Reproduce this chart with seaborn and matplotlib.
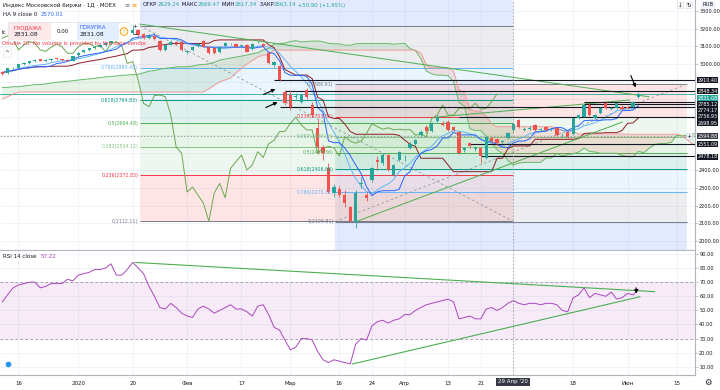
import matplotlib
matplotlib.use("Agg")
import matplotlib.pyplot as plt
import numpy as np
import pandas as pd
import seaborn as sns

# --------------------------------------------------------------------------- #
# Data (daily bars of the MOEX index)
# --------------------------------------------------------------------------- #
trade_start = "2019-12-11"
closed_days = ["2019-12-31", "2020-01-01", "2020-01-02", "2020-01-07",
               "2020-02-24", "2020-03-09", "2020-05-01", "2020-05-11",
               "2020-06-12"]

open_ = [
    2958, 2948, 2976, 2980, 2998, 3008, 3015, 3026, 3019, 3023,
    3033, 3028, 3024, 3020, 3050, 3066, 3078, 3088, 3098, 3108,
    3120, 3133, 3146, 3160, 3174, 3190, 3170, 3148, 3160, 3130,
    3080, 3110, 3125, 3125, 3066, 3078, 3100, 3128, 3098, 3088,
    3068, 3102, 3113, 3113, 3102, 3108, 3083, 3125, 3113, 3061,
    2995, 2989, 2844, 2825, 2816, 2788, 2854, 2769, 2640, 2531,
    2413, 2272, 2294, 2260, 2192, 2110, 2320, 2258, 2345, 2460,
    2440, 2486, 2375, 2460, 2470, 2525, 2548, 2598, 2646, 2620,
    2680, 2668, 2675, 2646, 2618, 2514, 2552, 2522, 2524, 2470,
    2580, 2578, 2560, 2582, 2629.24, 2684, 2630, 2632, 2656, 2630,
    2646, 2628, 2637, 2600, 2618, 2605, 2693, 2703, 2769, 2698,
    2722, 2778, 2748, 2750, 2760, 2760, 2757, 2812,
]
high = [
    2962, 2980, 2985, 3002, 3012, 3018, 3028, 3030, 3026, 3034,
    3036, 3031, 3027, 3048, 3068, 3080, 3092, 3102, 3112, 3125,
    3138, 3150, 3165, 3178, 3218, 3200, 3178, 3168, 3166, 3135,
    3115, 3135, 3130, 3135, 3080, 3100, 3118, 3136, 3103, 3094,
    3102, 3122, 3120, 3118, 3110, 3112, 3118, 3133, 3120, 3068,
    3020, 2995, 2856, 2856, 2835, 2830, 2862, 2785, 2690, 2540,
    2440, 2320, 2310, 2290, 2200, 2290, 2360, 2275, 2420, 2482,
    2495, 2492, 2435, 2510, 2485, 2560, 2575, 2625, 2655, 2670,
    2710, 2680, 2682, 2652, 2622, 2530, 2560, 2535, 2530, 2595,
    2590, 2585, 2572, 2615, 2669.47, 2690, 2645, 2648, 2662, 2640,
    2652, 2638, 2642, 2610, 2622, 2698, 2718, 2775, 2780, 2718,
    2755, 2785, 2756, 2782, 2768, 2765, 2790, 2840,
]
low = [
    2940, 2945, 2970, 2978, 2994, 3003, 3012, 3015, 3014, 3020,
    3022, 3018, 3015, 3018, 3048, 3060, 3074, 3085, 3094, 3104,
    3116, 3128, 3140, 3155, 3170, 3155, 3140, 3140, 3135, 3072,
    3075, 3105, 3110, 3072, 3058, 3074, 3096, 3094, 3055, 3055,
    3064, 3098, 3108, 3094, 3096, 3066, 3080, 3120, 3098, 3000,
    2985, 2905, 2770, 2740, 2805, 2780, 2800, 2700, 2490, 2458,
    2270, 2250, 2250, 2190, 2105, 2074, 2300, 2225, 2335, 2400,
    2430, 2395, 2365, 2455, 2455, 2520, 2540, 2592, 2612, 2615,
    2672, 2650, 2620, 2620, 2490, 2505, 2528, 2510, 2440, 2465,
    2555, 2545, 2552, 2578, 2617.34, 2640, 2620, 2625, 2622, 2622,
    2624, 2620, 2595, 2590, 2585, 2600, 2688, 2700, 2708, 2690,
    2718, 2745, 2740, 2745, 2740, 2745, 2752, 2808,
]
close = [
    2945, 2975, 2979, 2998, 3008, 3015, 3024, 3019, 3023, 3031,
    3026, 3022, 3018, 3046, 3065, 3078, 3088, 3098, 3108, 3120,
    3133, 3146, 3160, 3174, 3195, 3162, 3146, 3160, 3140, 3080,
    3108, 3127, 3118, 3080, 3072, 3095, 3113, 3098, 3061, 3061,
    3098, 3117, 3115, 3098, 3105, 3070, 3113, 3127, 3102, 3004,
    3014, 2910, 2778, 2759, 2822, 2825, 2816, 2712, 2530, 2497,
    2277, 2305, 2260, 2215, 2112, 2272, 2326, 2245, 2411, 2448,
    2486, 2402, 2430, 2505, 2472, 2550, 2570, 2618, 2620, 2665,
    2700, 2656, 2628, 2628, 2497, 2524, 2535, 2526, 2480, 2590,
    2565, 2553, 2565, 2609, 2663.14, 2646, 2632, 2640, 2628, 2632,
    2628, 2630, 2599, 2602, 2590, 2693, 2712, 2769, 2712, 2712,
    2750, 2752, 2750, 2778, 2745, 2750, 2787, 2831.08,
]
rsi = [
    56, 61, 66, 68, 69, 70, 70, 66, 67, 69, 69, 69,
    72, 71, 75, 76, 77, 79, 79, 80, 83, 75, 75, 79,
    84, 80, 76, 67, 60, 52, 51, 55, 52, 48, 46, 45,
    51, 53, 51, 48, 50, 52, 54, 51, 51, 49, 46, 53,
    54, 47, 38, 36, 29, 22, 24, 30, 30, 29, 21, 15,
    13, 15, 14, 13, 12, 26, 30, 29, 39, 42, 43, 41,
    43, 44, 47, 47, 50, 52, 54, 55, 56, 57, 58, 56,
    44, 45, 46, 44, 44, 51, 52, 50, 52, 55, 57, 55,
    54, 55, 55, 54, 55, 55, 54, 50, 49, 59, 61, 66,
    59, 62, 61, 60, 63, 58, 59, 62, 61, 65,
]
# leading spans at the left edge (their source bars lie before the window)
lead_a_head = [2868, 2868, 2872, 2872, 2876, 2880, 2884, 2884, 2888, 2893,
               2897, 2900, 2903, 2906, 2910, 2913, 2916, 2920, 2924, 2928,
               2930, 2933, 2936, 2938, 2940, 2942]
lead_b_head = [2803, 2815, 2830, 2842, 2842, 2842, 2842, 2842, 2842, 2842,
               2842, 2842, 2842, 2842, 2842, 2842, 2842, 2842, 2842, 2842,
               2842, 2842, 2842, 2842, 2842, 2842, 2842, 2842, 2842, 2842,
               2842, 2842, 2842, 2842, 2842, 2842, 2842, 2842, 2860, 2880,
               2900, 2910, 2921, 2950, 2975, 3000, 3020, 3040, 3051, 3051]

fib_a = (3216.84, 2112.11)          # price at level 1, price at level 0
fib_b = (2109.81, 2886.91)          # price at level 1, price at level 0
fib_ratios = [0, 0.236, 0.382, 0.5, 0.618, 0.786, 1, 1.618]
fib_colors = ["#787b86", "#f23645", "#81c784", "#4caf50", "#089981",
              "#64b5f6", "#787b86", "#2962ff"]

level_values = [2910.40, 2848.34, 2785.12, 2774.17, 2756.93, 2698.95, 2551.09, 2478.18]
level_from = ["2020-02-26", "2020-02-28", "2020-05-20", "2020-05-20",
              "2020-02-27", "2020-04-15", "2020-04-17", "2020-04-21"]
last_price = 2831.08
cross_date = "2020-04-29"
cross_price = 2594.88
scale_labels = [2910.40, 2848.34, 2831.08, 2785.12, 2774.17, 2756.93,
                2698.95, 2594.88, 2551.09, 2478.18]

time_ticks = ["2019-12-16", "2020-01-03", "2020-01-20", "2020-02-03", "2020-02-17",
              "2020-03-02", "2020-03-16", "2020-03-24", "2020-04-01", "2020-04-13",
              "2020-04-21", "2020-05-18", "2020-06-01", "2020-06-15"]
time_labels = ["16", "2020", "20", "Фев", "17", "Мар", "16", "24", "Апр", "13",
               "21", "18", "Июн", "15"]
price_ticks = [3300, 3200, 3100, 3000, 2400, 2300, 2200, 2100, 2000]
rsi_ticks = [90, 80, 70, 60, 50, 40, 30, 20, 10]

# --------------------------------------------------------------------------- #
# Derived series
# --------------------------------------------------------------------------- #
cal = pd.bdate_range(trade_start, "2020-07-15", freq="C", holidays=closed_days)
n = len(close)
bars = pd.DataFrame({"open": open_, "high": high, "low": low,
                     "close": close, "rsi": rsi})
bars["i"] = np.arange(n)
ext = np.arange(n + 26)

hi, lo, cl = bars["high"], bars["low"], bars["close"]
tenkan = (hi.rolling(9, min_periods=1).max() + lo.rolling(9, min_periods=1).min()) / 2
kijun = (hi.rolling(26, min_periods=1).max() + lo.rolling(26, min_periods=1).min()) / 2
span_a = ((tenkan + kijun) / 2).reindex(ext).shift(26)
span_b = ((hi.rolling(52, min_periods=1).max()
           + lo.rolling(52, min_periods=1).min()) / 2).reindex(ext).shift(26)
span_a.iloc[:len(lead_a_head)] = lead_a_head
span_b.iloc[:len(lead_b_head)] = lead_b_head
chikou = cl.shift(-26)
ma9 = cl.rolling(9, min_periods=1).mean()


def pos(day):
    return cal.get_loc(pd.Timestamp(day))


# --------------------------------------------------------------------------- #
# Figure
# --------------------------------------------------------------------------- #
sns.set_theme(style="white")
plt.rcParams["font.family"] = ["DejaVu Sans"]

GREEN, RED = "#26a69a", "#ef5350"
TXT = "#131722"
AXIS = "#b2b5be"
GRID = "#f0f3fa"
W, H = 720, 390

fig = plt.figure(figsize=(7.2, 3.9), dpi=100)
ax = fig.add_axes([0, 1 - 250 / H, 695 / W, 250 / H])
ax_r = fig.add_axes([0, 1 - 375 / H, 695 / W, 124 / H], sharex=ax)

xmin, xmax = -0.4, 127.4
ax.set_xlim(xmin, xmax)
ax.set_ylim(1949.5, 3362)
ax_r.set_ylim(4.2, 92.1)

tick_pos = [pos(d) for d in time_ticks]
for a in (ax, ax_r):
    for p in tick_pos:
        a.axvline(p, color=GRID, lw=0.7, zorder=0)
    for s in ("top", "left"):
        a.spines[s].set_visible(False)
    for s in ("right", "bottom"):
        a.spines[s].set_color(AXIS)
        a.spines[s].set_linewidth(0.8)
for v in range(2000, 3400, 100):
    ax.axhline(v, color=GRID, lw=0.7, zorder=0)
for v in rsi_ticks:
    ax_r.axhline(v, color=GRID, lw=0.7, zorder=0)


# --- fibonacci retracements
def draw_fib(p1, p0, x0, x1, hidden=()):
    prices = [p0 + r * (p1 - p0) for r in fib_ratios]
    for k in range(1, len(prices)):
        ax.fill_between([x0, x1], prices[k - 1], prices[k],
                        color=fib_colors[k], alpha=0.13, lw=0, zorder=1)
    for r, p, c in zip(fib_ratios, prices, fib_colors):
        if not (1960 < p < 3350):
            continue
        ax.hlines(p, x0, x1, color=c, lw=0.7, zorder=1.5)
        if r in hidden:       # label sits under the order widget
            continue
        ax.text(x0 - 0.3, p, f"{r:g}({p:.2f})", color=c, fontsize=3.4,
                ha="right", va="center", zorder=6)
    ax.plot([x0, x1], [p1, p0], color="#9598a1", lw=0.6, ls=(0, (3, 3)), zorder=1.6)


draw_fib(fib_a[0], fib_a[1], 25.3, 93.9, hidden=(1,))
draw_fib(fib_b[0], fib_b[1], 61.2, 125.9)

# --- ichimoku cloud
ax.fill_between(ext, span_a, span_b, where=span_a >= span_b, interpolate=True,
                color="#43a047", alpha=0.12, lw=0, zorder=2)
ax.fill_between(ext, span_a, span_b, where=span_a < span_b, interpolate=True,
                color="#f44336", alpha=0.12, lw=0, zorder=2)
lines = pd.DataFrame({"i": ext, "a": span_a.values, "b": span_b.values})
for col, color in (("a", "#66bb6a"), ("b", "#ef9a9a")):
    d = lines.dropna(subset=[col])
    sns.lineplot(data=d, x="i", y=col, ax=ax, color=color, lw=0.7,
                 estimator=None, legend=False, zorder=3)
ind = pd.DataFrame({"i": bars["i"], "tenkan": tenkan, "kijun": kijun,
                    "ma9": ma9, "chikou": chikou})
for col, color in (("kijun", "#8d1c24"), ("chikou", "#6aa84f"),
                   ("ma9", "#64b5f6"), ("tenkan", "#2962ff")):
    d = ind.dropna(subset=[col])
    sns.lineplot(data=d, x="i", y=col, ax=ax, color=color, lw=0.7,
                 estimator=None, legend=False, zorder=3)

# --- current price & level lines
ax.axhline(last_price, color=GREEN, lw=0.6, zorder=2.5)
for v, d in zip(level_values, level_from):
    ax.hlines(v, pos(d), xmax, color=TXT, lw=0.8, zorder=3.5)

# --- trend lines
trend = [((25.3, 3226), (119.0, 2815)),
         ((64.9, 2108), (114.1, 2673)),
         ((80.0, 2701), (115.4, 2797))]
for (x0, y0), (x1, y1) in trend:
    ax.plot([x0, x1], [y0, y1], color="#4caf50", lw=0.7, zorder=3.2)

# --- candles
up = bars["close"] >= bars["open"]
colors = np.where(up, GREEN, RED)
ax.vlines(bars["i"], bars["low"], bars["high"], colors=colors, lw=0.6, zorder=4)
body_lo = bars[["open", "close"]].min(axis=1)
body_h = (bars["close"] - bars["open"]).abs().clip(lower=2)
ax.bar(bars["i"], body_h, bottom=body_lo, width=0.6, color=colors, lw=0, zorder=4.5)

# --- arrows
arrow = dict(arrowstyle="-|>", color="black", lw=0.8, mutation_scale=5)
ax.annotate("", xy=(50.7, 2865), xytext=(47.6, 2822), arrowprops=arrow, zorder=7)
ax.annotate("", xy=(51.1, 2791), xytext=(48.0, 2748), arrowprops=arrow, zorder=7)
ax.annotate("", xy=(116.7, 2853), xytext=(115.4, 2950), arrowprops=arrow, zorder=7)

# --- crosshair
cx = pos(cross_date)
for a in (ax, ax_r):
    a.axvline(cx, color="#9598a1", lw=0.6, ls=(0, (2, 2)), zorder=6)
ax.axhline(cross_price, color="#9598a1", lw=0.6, ls=(0, (2, 2)), zorder=6)

# --- RSI panel
ax_r.axhspan(30, 70, color="#9c27b0", alpha=0.09, lw=0, zorder=0.5)
for v in (70, 30):
    ax_r.axhline(v, color="#9598a1", lw=0.6, ls=(0, (3, 3)), zorder=1)
sns.lineplot(data=bars, x="i", y="rsi", ax=ax_r, color="#ab47bc", lw=0.7,
             estimator=None, legend=False, zorder=3)
ax_r.plot([24.4, 120.0], [84, 63.3], color="#4caf50", lw=0.8, zorder=2.5)
ax_r.plot([64.4, 117.3], [12, 59.7], color="#4caf50", lw=0.8, zorder=2.5)
ax_r.annotate("", xy=(116.7, 60), xytext=(116.5, 68), arrowprops=arrow, zorder=7)
ax_r.plot([0.011], [0.09], transform=ax_r.transAxes, marker="o", ms=4.5,
          color="#2196f3", mec="white", mew=0.4, zorder=5, clip_on=False)

# --- axes ticks and labels
for a, ticks in ((ax, price_ticks), (ax_r, rsi_ticks)):
    a.yaxis.tick_right()
    a.set_yticks(ticks)
    a.set_yticklabels([f"{t:.2f}" for t in ticks])
    a.tick_params(axis="y", labelsize=3.6, length=2, pad=1.0, colors=TXT,
                  width=0.5, color=AXIS)
    a.set_xlabel("")
    a.set_ylabel("")
ax.tick_params(axis="x", length=0, labelbottom=False)
ax_r.set_xticks(tick_pos)
ax_r.set_xticklabels(time_labels)
ax_r.tick_params(axis="x", labelsize=4.0, length=2, pad=2, colors=TXT,
                 width=0.5, color=AXIS)


def ftext(x, y, s, **kw):
    kw.setdefault("va", "center")
    return fig.text(x / W, 1 - y / H, s, **kw)


# boxes on the price scale (TradingView stacks them so they do not collide)
label_rows = [80, 91.3, 98, 104.5, 111, 117, 123.3, 136, 144, 157]
for v, y in zip(scale_labels, label_rows):
    fc = GREEN if v == last_price else ("#363a45" if v == cross_price else TXT)
    ftext(697.5, y, f"{v:.2f}", fontsize=3.5, color="white", ha="left", zorder=10,
          bbox=dict(boxstyle="square,pad=0.12", fc=fc, ec="none"))
ftext(689, 136, "+", fontsize=4.5, color=TXT, ha="center",
      bbox=dict(boxstyle="square,pad=0.1", fc="#f0f3fa", ec="#d1d4dc", lw=0.4))
ftext(513, 382, "29 Апр '20", fontsize=4.0, color="white", ha="center", zorder=10,
      bbox=dict(boxstyle="square,pad=0.35", fc="#363a45", ec="none"))


# --- legend / header texts (pixel positions)
def chain(x, y, parts, size):
    fig.canvas.draw()
    r = fig.canvas.get_renderer()
    for s, c in parts:
        t = ftext(x, y, s, fontsize=size, color=c)
        x += t.get_window_extent(r).width + 0.3


ftext(3, 5, "Индекс Московской биржи · 1Д · MOEX", fontsize=4.0, color=TXT)
ftext(124, 5, "≡", fontsize=4.5, color="#787b86")
ftext(131, 5, "≡", fontsize=4.5, color="#ff9800")
chain(143, 5, [("ОТКР", TXT), ("2629.24", GREEN), (" МАКС", TXT), ("2669.47", GREEN),
               (" МИН", TXT), ("2617.34", GREEN), (" ЗАКР", TXT), ("2663.14", GREEN),
               (" +50.90 (+1.95%)", GREEN)], 3.9)
chain(3, 15, [("НА 9 close 0  ", TXT), ("2570.01", "#2962ff")], 4.0)
ftext(2, 33, "Ic", fontsize=4.0, color=TXT)

# buy / sell widget
wax = fig.add_axes([8 / W, 1 - 41 / H, 122 / W, 19 / H])
wax.set_xlim(0, 122)
wax.set_ylim(19, 0)
wax.axis("off")
wax.add_patch(plt.Rectangle((0, 0), 122, 19, fc="white", ec="#e0e3eb", lw=0.6))
wax.add_patch(plt.Rectangle((1, 1), 42, 17, fc="#fde8ea", ec="none"))
wax.add_patch(plt.Rectangle((69, 1), 42, 17, fc="#e3effd", ec="none"))
wax.text(5, 6, "ПРОДАЖА", fontsize=3.9, color="#f23645", va="center")
wax.text(5, 13, "2831.08", fontsize=4.3, color=TXT, va="center")
wax.text(55, 9.5, "0.00", fontsize=4.1, color=TXT, va="center", ha="center")
wax.text(72, 6, "ПОКУПКА", fontsize=3.9, color="#2962ff", va="center")
wax.text(72, 13, "2831.08", fontsize=4.3, color=TXT, va="center")
wax.add_patch(plt.Circle((116, 9.5), 3.8, fc="none", ec="#ff9800", lw=0.7))
wax.text(116, 9.7, "i", fontsize=4.0, color="#ff9800", va="center", ha="center")
ftext(135, 26, "+", fontsize=4.5, color=TXT, ha="center")
ftext(135, 34, "−", fontsize=4.5, color=TXT, ha="center")

ftext(2, 44, "Объём 20: No volume is provided by the data vendor.", fontsize=3.9,
      color="#f23645")
ftext(7, 53, "^", fontsize=4.2, color=TXT, ha="center",
      bbox=dict(boxstyle="square,pad=0.3", fc="white", ec="#e0e3eb", lw=0.4))
ftext(708, 5, "RUB", fontsize=3.8, color=TXT, ha="center",
      bbox=dict(boxstyle="round,pad=0.3", fc="#f0f3fa", ec="none"))
ftext(680, 5, "↓", fontsize=4.0, color=TXT, ha="center",
      bbox=dict(boxstyle="square,pad=0.15", fc="white", ec="#d1d4dc", lw=0.4))
ftext(689, 5, "↻", fontsize=4.0, color=TXT, ha="center",
      bbox=dict(boxstyle="square,pad=0.15", fc="white", ec="#d1d4dc", lw=0.4))
chain(3, 256, [("RSI 14 close  ", TXT), ("57.22", "#ab47bc")], 4.0)
ftext(708, 382, "⚙", fontsize=6, color=TXT, ha="center")

fig.savefig("out.png", dpi=100)
plt.close(fig)
